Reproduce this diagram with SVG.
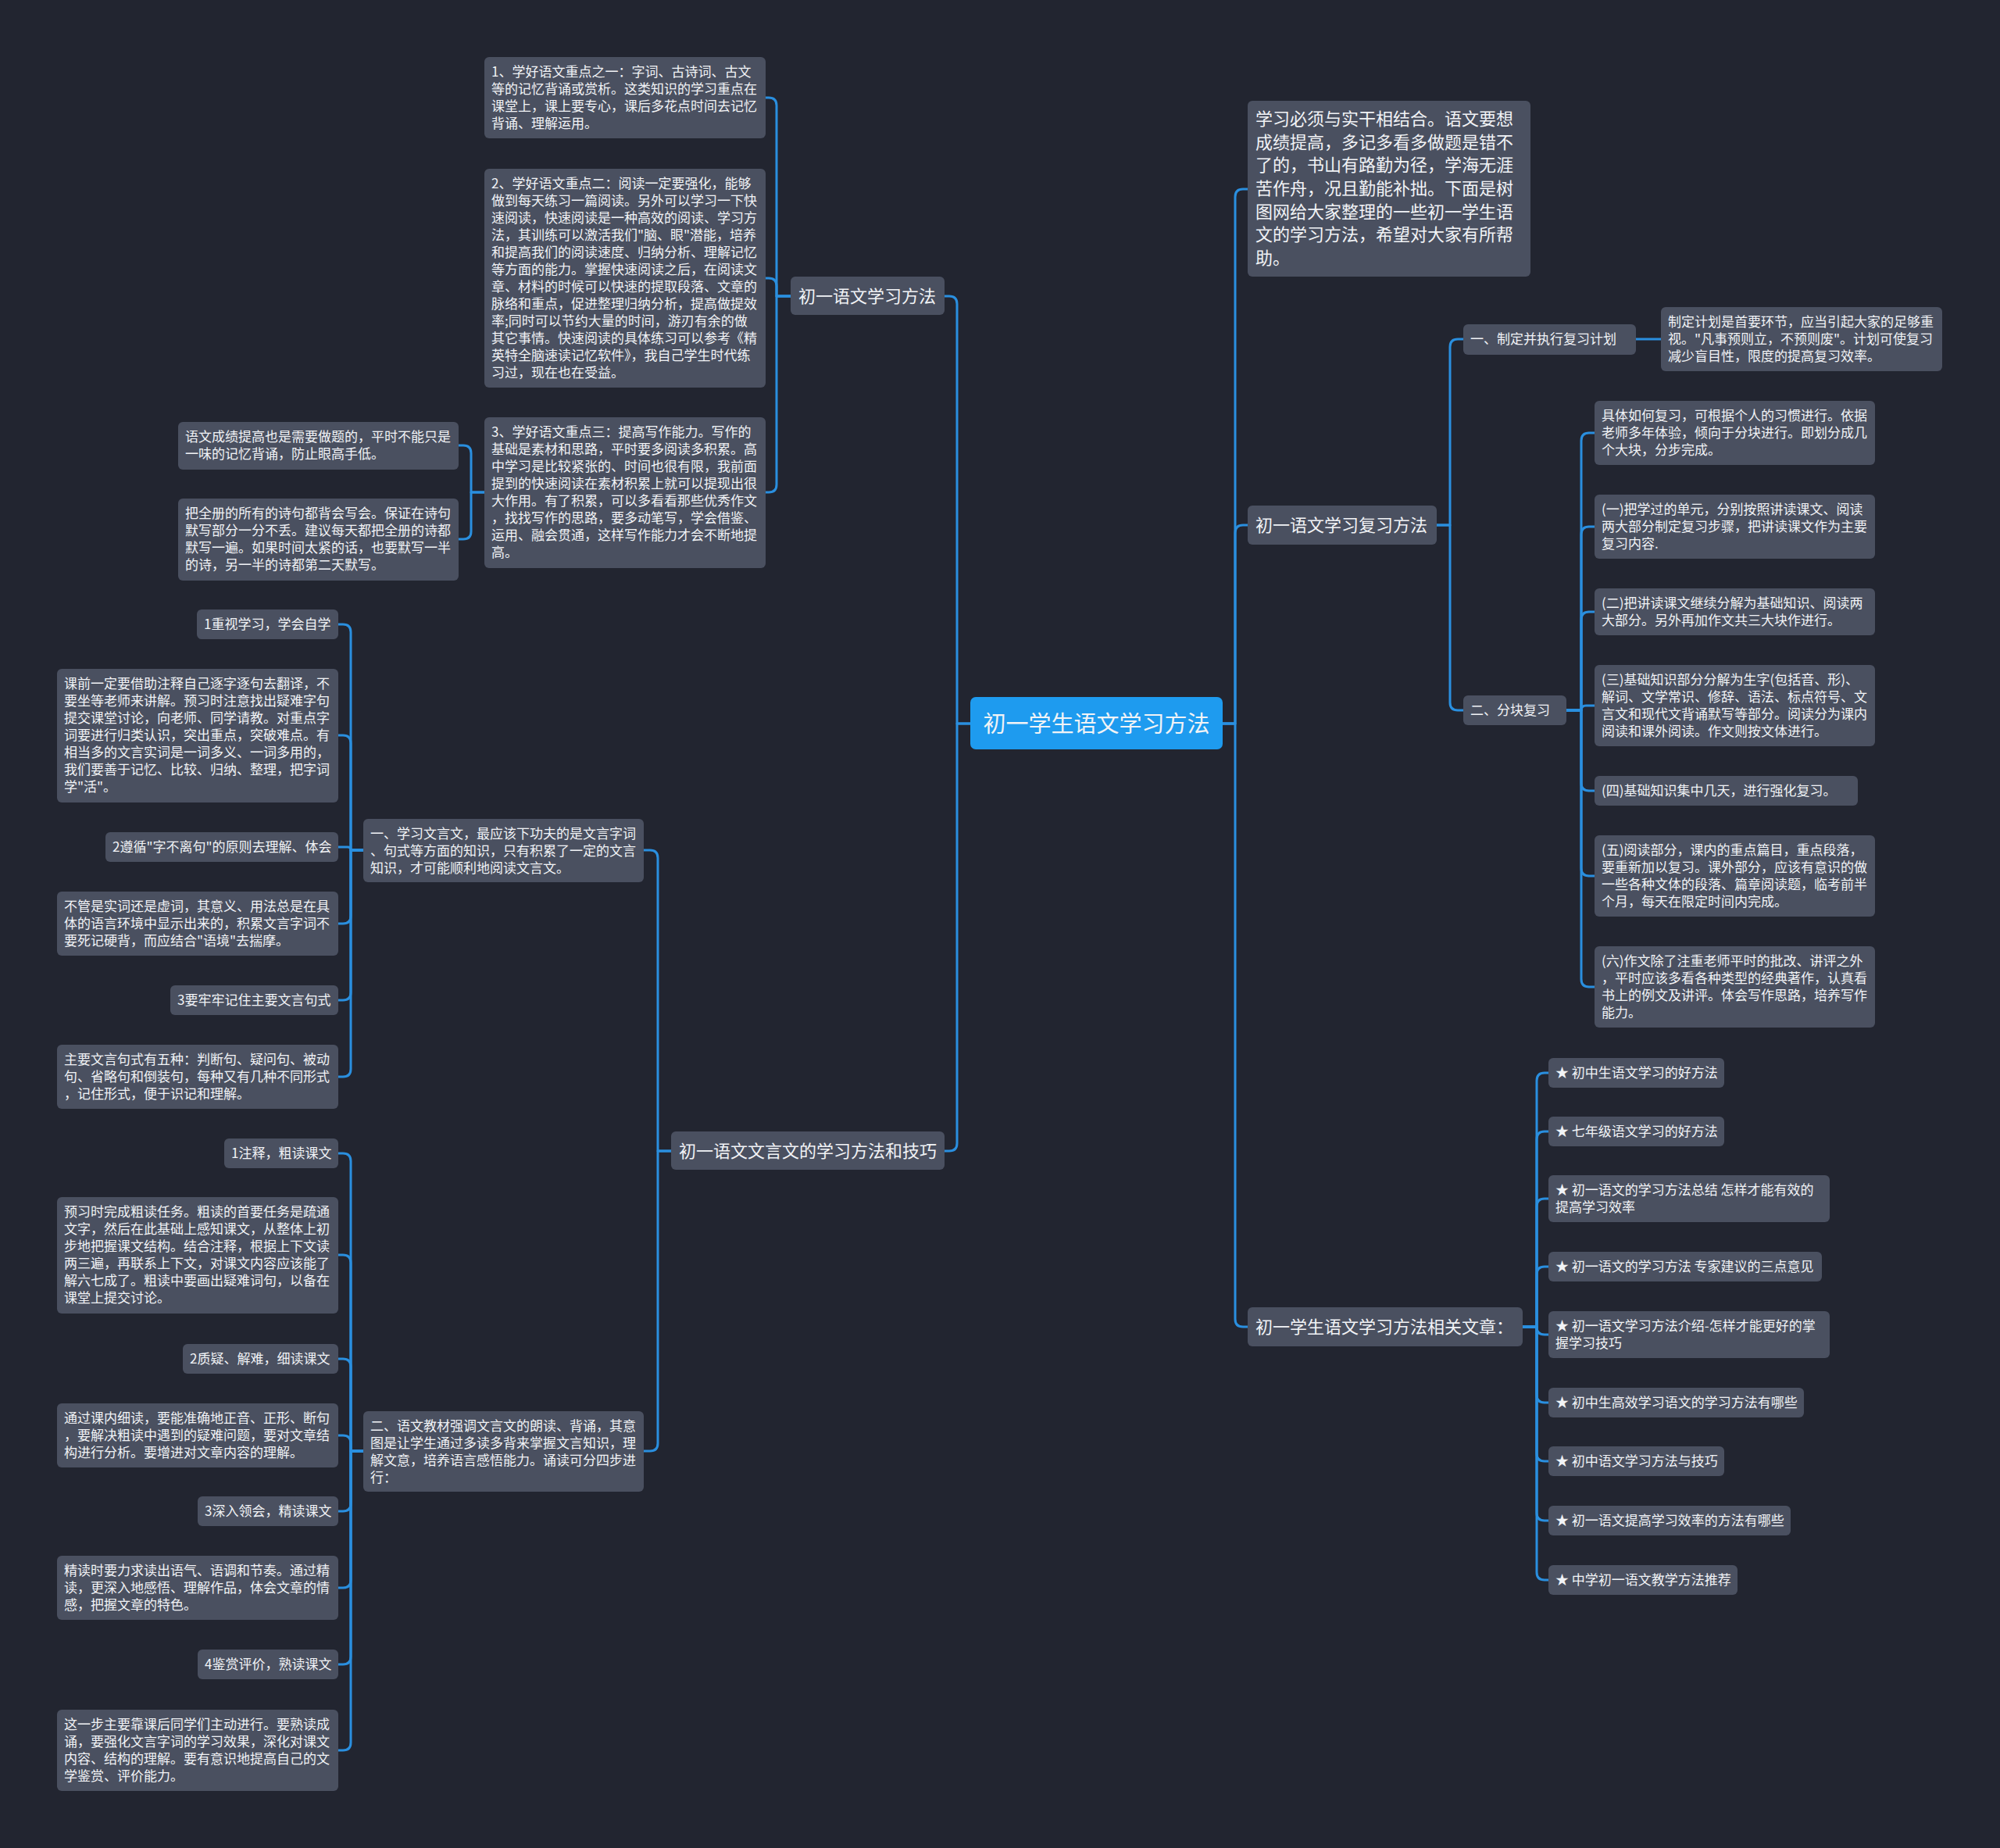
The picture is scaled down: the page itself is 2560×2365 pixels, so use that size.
<svg xmlns="http://www.w3.org/2000/svg" width="2560" height="2365" viewBox="0 0 2560 2365">
<style>
.bg{fill:#222530}
.box{fill:#4a5060}
.rootbox{fill:#1e9bef}
text{fill:#f1f3f6;font-family:"Noto Sans CJK SC","Microsoft YaHei",sans-serif}
.s{font-size:17px}
.m{font-size:22px}
.r{font-size:29px;text-anchor:middle}
.c path{fill:none;stroke:#2a8fdf;stroke-width:3;stroke-linejoin:round}
</style>
<rect class="bg" x="0" y="0" width="2560" height="2365"/>
<g id="connectors" class="c">
<path d="M1242 926 H1225 V389 Q1225 379 1215 379 H1209"/>
<path d="M1242 926 H1225 V1463 Q1225 1473 1215 1473 H1209"/>
<path d="M1565 926 H1581 V252 Q1581 242 1591 242 H1597"/>
<path d="M1565 926 H1581 V682 Q1581 672 1591 672 H1597"/>
<path d="M1565 926 H1581 V1688 Q1581 1698 1591 1698 H1597"/>
<path d="M1012 379 H994 V135 Q994 125 984 125 H980"/>
<path d="M1012 379 H994 V366 Q994 356 984 356 H980"/>
<path d="M1012 379 H994 V620 Q994 630 984 630 H980"/>
<path d="M620 630 H603 V580 Q603 570 593 570 H587"/>
<path d="M620 630 H603 V680 Q603 690 593 690 H587"/>
<path d="M859 1473 H842 V1098 Q842 1088 832 1088 H824"/>
<path d="M859 1473 H842 V1847 Q842 1857 832 1857 H824"/>
<path d="M465 1088 H449 V809 Q449 799 439 799 H433"/>
<path d="M465 1088 H449 V951 Q449 941 439 941 H433"/>
<path d="M465 1088 H449 Q449 1084 445 1084 H433"/>
<path d="M465 1088 H449 V1172 Q449 1182 439 1182 H433"/>
<path d="M465 1088 H449 V1270 Q449 1280 439 1280 H433"/>
<path d="M465 1088 H449 V1368 Q449 1378 439 1378 H433"/>
<path d="M465 1857 H449 V1486 Q449 1476 439 1476 H433"/>
<path d="M465 1857 H449 V1616 Q449 1606 439 1606 H433"/>
<path d="M465 1857 H449 V1749 Q449 1739 439 1739 H433"/>
<path d="M465 1857 H449 V1847 Q449 1837 439 1837 H433"/>
<path d="M465 1857 H449 V1924 Q449 1934 439 1934 H433"/>
<path d="M465 1857 H449 V2022 Q449 2032 439 2032 H433"/>
<path d="M465 1857 H449 V2120 Q449 2130 439 2130 H433"/>
<path d="M465 1857 H449 V2230 Q449 2240 439 2240 H433"/>
<path d="M1838 672 H1856 V444 Q1856 434 1866 434 H1873"/>
<path d="M1838 672 H1856 V899 Q1856 909 1866 909 H1873"/>
<path d="M2094 434 H2126"/>
<path d="M2005 909 H2024 V564 Q2024 554 2034 554 H2041"/>
<path d="M2005 909 H2024 V684 Q2024 674 2034 674 H2041"/>
<path d="M2005 909 H2024 V793 Q2024 783 2034 783 H2041"/>
<path d="M2005 909 H2024 Q2024 903 2030 903 H2041"/>
<path d="M2005 909 H2024 V1002 Q2024 1012 2034 1012 H2041"/>
<path d="M2005 909 H2024 V1111 Q2024 1121 2034 1121 H2041"/>
<path d="M2005 909 H2024 V1253 Q2024 1263 2034 1263 H2041"/>
<path d="M1949 1698 H1967 V1383 Q1967 1373 1977 1373 H1982"/>
<path d="M1949 1698 H1967 V1458 Q1967 1448 1977 1448 H1982"/>
<path d="M1949 1698 H1967 V1544 Q1967 1534 1977 1534 H1982"/>
<path d="M1949 1698 H1967 V1631 Q1967 1621 1977 1621 H1982"/>
<path d="M1949 1698 H1967 Q1967 1708 1977 1708 H1982"/>
<path d="M1949 1698 H1967 V1785 Q1967 1795 1977 1795 H1982"/>
<path d="M1949 1698 H1967 V1860 Q1967 1870 1977 1870 H1982"/>
<path d="M1949 1698 H1967 V1936 Q1967 1946 1977 1946 H1982"/>
<path d="M1949 1698 H1967 V2012 Q1967 2022 1977 2022 H1982"/>
</g>

<g id="root">
<rect class="rootbox" x="1242" y="892" width="323" height="67" rx="7"/>
<text class="r" x="1403.5" y="937">初一学生语文学习方法</text>
</g>

<g id="n-method">
<rect class="box" x="1012" y="354" width="197" height="49" rx="6"/>
<text class="m" x="1022" y="387">初一语文学习方法</text>
</g>
<g id="n-m1">
<rect class="box" x="620" y="73" width="360" height="104" rx="6"/>
<text class="s"><tspan x="629" y="98">1、学好语文重点之一：字词、古诗词、古文</tspan><tspan x="629" y="120">等的记忆背诵或赏析。这类知识的学习重点在</tspan><tspan x="629" y="142">课堂上，课上要专心，课后多花点时间去记忆</tspan><tspan x="629" y="164">背诵、理解运用。</tspan></text>
</g>
<g id="n-m2">
<rect class="box" x="620" y="216" width="360" height="280" rx="6"/>
<text class="s"><tspan x="629" y="241">2、学好语文重点二：阅读一定要强化，能够</tspan><tspan x="629" y="263">做到每天练习一篇阅读。另外可以学习一下快</tspan><tspan x="629" y="285">速阅读，快速阅读是一种高效的阅读、学习方</tspan><tspan x="629" y="307">法，其训练可以激活我们"脑、眼"潜能，培养</tspan><tspan x="629" y="329">和提高我们的阅读速度、归纳分析、理解记忆</tspan><tspan x="629" y="351">等方面的能力。掌握快速阅读之后，在阅读文</tspan><tspan x="629" y="373">章、材料的时候可以快速的提取段落、文章的</tspan><tspan x="629" y="395">脉络和重点，促进整理归纳分析，提高做提效</tspan><tspan x="629" y="417">率;同时可以节约大量的时间，游刃有余的做</tspan><tspan x="629" y="439">其它事情。快速阅读的具体练习可以参考《精</tspan><tspan x="629" y="461">英特全脑速读记忆软件》，我自己学生时代练</tspan><tspan x="629" y="483">习过，现在也在受益。</tspan></text>
</g>
<g id="n-m3">
<rect class="box" x="620" y="534" width="360" height="193" rx="6"/>
<text class="s"><tspan x="629" y="559">3、学好语文重点三：提高写作能力。写作的</tspan><tspan x="629" y="581">基础是素材和思路，平时要多阅读多积累。高</tspan><tspan x="629" y="603">中学习是比较紧张的、时间也很有限，我前面</tspan><tspan x="629" y="625">提到的快速阅读在素材积累上就可以提现出很</tspan><tspan x="629" y="647">大作用。有了积累，可以多看看那些优秀作文</tspan><tspan x="629" y="669">，找找写作的思路，要多动笔写，学会借鉴、</tspan><tspan x="629" y="691">运用、融会贯通，这样写作能力才会不断地提</tspan><tspan x="629" y="713">高。</tspan></text>
</g>
<g id="n-m3a">
<rect class="box" x="228" y="540" width="359" height="61" rx="6"/>
<text class="s"><tspan x="237" y="565">语文成绩提高也是需要做题的，平时不能只是</tspan><tspan x="237" y="587">一味的记忆背诵，防止眼高手低。</tspan></text>
</g>
<g id="n-m3b">
<rect class="box" x="228" y="638" width="359" height="105" rx="6"/>
<text class="s"><tspan x="237" y="663">把全册的所有的诗句都背会写会。保证在诗句</tspan><tspan x="237" y="685">默写部分一分不丢。建议每天都把全册的诗都</tspan><tspan x="237" y="707">默写一遍。如果时间太紧的话，也要默写一半</tspan><tspan x="237" y="729">的诗，另一半的诗都第二天默写。</tspan></text>
</g>

<g id="n-wyw">
<rect class="box" x="859" y="1448" width="350" height="49" rx="6"/>
<text class="m" x="869" y="1481">初一语文文言文的学习方法和技巧</text>
</g>
<g id="n-w1">
<rect class="box" x="465" y="1048" width="359" height="81" rx="6"/>
<text class="s"><tspan x="474" y="1073">一、学习文言文，最应该下功夫的是文言字词</tspan><tspan x="474" y="1095">、句式等方面的知识，只有积累了一定的文言</tspan><tspan x="474" y="1117">知识，才可能顺利地阅读文言文。</tspan></text>
</g>
<g id="n-w1a">
<rect class="box" x="252" y="780" width="181" height="38" rx="6"/>
<text class="s" x="261" y="805">1重视学习，学会自学</text>
</g>
<g id="n-w1b">
<rect class="box" x="73" y="856" width="360" height="171" rx="6"/>
<text class="s"><tspan x="82" y="881">课前一定要借助注释自己逐字逐句去翻译，不</tspan><tspan x="82" y="903">要坐等老师来讲解。预习时注意找出疑难字句</tspan><tspan x="82" y="925">提交课堂讨论，向老师、同学请教。对重点字</tspan><tspan x="82" y="947">词要进行归类认识，突出重点，突破难点。有</tspan><tspan x="82" y="969">相当多的文言实词是一词多义、一词多用的，</tspan><tspan x="82" y="991">我们要善于记忆、比较、归纳、整理，把字词</tspan><tspan x="82" y="1013">学"活"。</tspan></text>
</g>
<g id="n-w1c">
<rect class="box" x="135" y="1065" width="298" height="38" rx="6"/>
<text class="s" x="144" y="1090">2遵循"字不离句"的原则去理解、体会</text>
</g>
<g id="n-w1d">
<rect class="box" x="73" y="1141" width="360" height="82" rx="6"/>
<text class="s"><tspan x="82" y="1166">不管是实词还是虚词，其意义、用法总是在具</tspan><tspan x="82" y="1188">体的语言环境中显示出来的，积累文言字词不</tspan><tspan x="82" y="1210">要死记硬背，而应结合"语境"去揣摩。</tspan></text>
</g>
<g id="n-w1e">
<rect class="box" x="218" y="1261" width="215" height="38" rx="6"/>
<text class="s" x="227" y="1286">3要牢牢记住主要文言句式</text>
</g>
<g id="n-w1f">
<rect class="box" x="73" y="1337" width="360" height="82" rx="6"/>
<text class="s"><tspan x="82" y="1362">主要文言句式有五种：判断句、疑问句、被动</tspan><tspan x="82" y="1384">句、省略句和倒装句，每种又有几种不同形式</tspan><tspan x="82" y="1406">，记住形式，便于识记和理解。</tspan></text>
</g>
<g id="n-w2">
<rect class="box" x="465" y="1806" width="359" height="103" rx="6"/>
<text class="s"><tspan x="474" y="1831">二、语文教材强调文言文的朗读、背诵，其意</tspan><tspan x="474" y="1853">图是让学生通过多读多背来掌握文言知识，理</tspan><tspan x="474" y="1875">解文意，培养语言感悟能力。诵读可分四步进</tspan><tspan x="474" y="1897">行：</tspan></text>
</g>
<g id="n-w2a">
<rect class="box" x="287" y="1457" width="146" height="38" rx="6"/>
<text class="s" x="296" y="1482">1注释，粗读课文</text>
</g>
<g id="n-w2b">
<rect class="box" x="73" y="1532" width="360" height="149" rx="6"/>
<text class="s"><tspan x="82" y="1557">预习时完成粗读任务。粗读的首要任务是疏通</tspan><tspan x="82" y="1579">文字，然后在此基础上感知课文，从整体上初</tspan><tspan x="82" y="1601">步地把握课文结构。结合注释，根据上下文读</tspan><tspan x="82" y="1623">两三遍，再联系上下文，对课文内容应该能了</tspan><tspan x="82" y="1645">解六七成了。粗读中要画出疑难词句，以备在</tspan><tspan x="82" y="1667">课堂上提交讨论。</tspan></text>
</g>
<g id="n-w2c">
<rect class="box" x="234" y="1720" width="199" height="38" rx="6"/>
<text class="s" x="243" y="1745">2质疑、解难，细读课文</text>
</g>
<g id="n-w2d">
<rect class="box" x="73" y="1796" width="360" height="82" rx="6"/>
<text class="s"><tspan x="82" y="1821">通过课内细读，要能准确地正音、正形、断句</tspan><tspan x="82" y="1843">，要解决粗读中遇到的疑难问题，要对文章结</tspan><tspan x="82" y="1865">构进行分析。要增进对文章内容的理解。</tspan></text>
</g>
<g id="n-w2e">
<rect class="box" x="253" y="1915" width="180" height="38" rx="6"/>
<text class="s" x="262" y="1940">3深入领会，精读课文</text>
</g>
<g id="n-w2f">
<rect class="box" x="73" y="1991" width="360" height="82" rx="6"/>
<text class="s"><tspan x="82" y="2016">精读时要力求读出语气、语调和节奏。通过精</tspan><tspan x="82" y="2038">读，更深入地感悟、理解作品，体会文章的情</tspan><tspan x="82" y="2060">感，把握文章的特色。</tspan></text>
</g>
<g id="n-w2g">
<rect class="box" x="253" y="2111" width="180" height="38" rx="6"/>
<text class="s" x="262" y="2136">4鉴赏评价，熟读课文</text>
</g>
<g id="n-w2h">
<rect class="box" x="73" y="2188" width="360" height="104" rx="6"/>
<text class="s"><tspan x="82" y="2213">这一步主要靠课后同学们主动进行。要熟读成</tspan><tspan x="82" y="2235">诵，要强化文言字词的学习效果，深化对课文</tspan><tspan x="82" y="2257">内容、结构的理解。要有意识地提高自己的文</tspan><tspan x="82" y="2279">学鉴赏、评价能力。</tspan></text>
</g>

<g id="n-intro">
<rect class="box" x="1597" y="129" width="362" height="225" rx="6"/>
<text class="m"><tspan x="1607" y="160">学习必须与实干相结合。语文要想</tspan><tspan x="1607" y="190">成绩提高，多记多看多做题是错不</tspan><tspan x="1607" y="219">了的，书山有路勤为径，学海无涯</tspan><tspan x="1607" y="249">苦作舟，况且勤能补拙。下面是树</tspan><tspan x="1607" y="279">图网给大家整理的一些初一学生语</tspan><tspan x="1607" y="308">文的学习方法，希望对大家有所帮</tspan><tspan x="1607" y="338">助。</tspan></text>
</g>

<g id="n-review">
<rect class="box" x="1597" y="647" width="242" height="50" rx="6"/>
<text class="m" x="1607" y="680">初一语文学习复习方法</text>
</g>
<g id="n-r1">
<rect class="box" x="1873" y="415" width="221" height="39" rx="6"/>
<text class="s" x="1882" y="440">一、制定并执行复习计划</text>
</g>
<g id="n-r1a">
<rect class="box" x="2126" y="393" width="360" height="82" rx="6"/>
<text class="s"><tspan x="2135" y="418">制定计划是首要环节，应当引起大家的足够重</tspan><tspan x="2135" y="440">视。"凡事预则立，不预则废"。计划可使复习</tspan><tspan x="2135" y="462">减少盲目性，限度的提高复习效率。</tspan></text>
</g>
<g id="n-r2">
<rect class="box" x="1873" y="890" width="132" height="38" rx="6"/>
<text class="s" x="1882" y="915">二、分块复习</text>
</g>
<g id="n-r2a">
<rect class="box" x="2041" y="513" width="359" height="82" rx="6"/>
<text class="s"><tspan x="2050" y="538">具体如何复习，可根据个人的习惯进行。依据</tspan><tspan x="2050" y="560">老师多年体验，倾向于分块进行。即划分成几</tspan><tspan x="2050" y="582">个大块，分步完成。</tspan></text>
</g>
<g id="n-r2b">
<rect class="box" x="2041" y="633" width="359" height="82" rx="6"/>
<text class="s"><tspan x="2050" y="658">(一)把学过的单元，分别按照讲读课文、阅读</tspan><tspan x="2050" y="680">两大部分制定复习步骤，把讲读课文作为主要</tspan><tspan x="2050" y="702">复习内容.</tspan></text>
</g>
<g id="n-r2c">
<rect class="box" x="2041" y="753" width="359" height="60" rx="6"/>
<text class="s"><tspan x="2050" y="778">(二)把讲读课文继续分解为基础知识、阅读两</tspan><tspan x="2050" y="800">大部分。另外再加作文共三大块作进行。</tspan></text>
</g>
<g id="n-r2d">
<rect class="box" x="2041" y="851" width="359" height="104" rx="6"/>
<text class="s"><tspan x="2050" y="876">(三)基础知识部分分解为生字(包括音、形)、</tspan><tspan x="2050" y="898">解词、文学常识、修辞、语法、标点符号、文</tspan><tspan x="2050" y="920">言文和现代文背诵默写等部分。阅读分为课内</tspan><tspan x="2050" y="942">阅读和课外阅读。作文则按文体进行。</tspan></text>
</g>
<g id="n-r2e">
<rect class="box" x="2041" y="993" width="337" height="38" rx="6"/>
<text class="s" x="2050" y="1018">(四)基础知识集中几天，进行强化复习。</text>
</g>
<g id="n-r2f">
<rect class="box" x="2041" y="1069" width="359" height="104" rx="6"/>
<text class="s"><tspan x="2050" y="1094">(五)阅读部分，课内的重点篇目，重点段落，</tspan><tspan x="2050" y="1116">要重新加以复习。课外部分，应该有意识的做</tspan><tspan x="2050" y="1138">一些各种文体的段落、篇章阅读题，临考前半</tspan><tspan x="2050" y="1160">个月，每天在限定时间内完成。</tspan></text>
</g>
<g id="n-r2g">
<rect class="box" x="2041" y="1211" width="359" height="104" rx="6"/>
<text class="s"><tspan x="2050" y="1236">(六)作文除了注重老师平时的批改、讲评之外</tspan><tspan x="2050" y="1258">，平时应该多看各种类型的经典著作，认真看</tspan><tspan x="2050" y="1280">书上的例文及讲评。体会写作思路，培养写作</tspan><tspan x="2050" y="1302">能力。</tspan></text>
</g>

<g id="n-related">
<rect class="box" x="1597" y="1673" width="352" height="50" rx="6"/>
<text class="m" x="1607" y="1706">初一学生语文学习方法相关文章：</text>
</g>
<g id="n-g1"><rect class="box" x="1982" y="1354" width="225" height="38" rx="6"/><text class="s" x="1991" y="1379">★ 初中生语文学习的好方法</text></g>
<g id="n-g2"><rect class="box" x="1982" y="1429" width="225" height="38" rx="6"/><text class="s" x="1991" y="1454">★ 七年级语文学习的好方法</text></g>
<g id="n-g3"><rect class="box" x="1982" y="1504" width="360" height="60" rx="6"/><text class="s"><tspan x="1991" y="1529">★ 初一语文的学习方法总结 怎样才能有效的</tspan><tspan x="1991" y="1551">提高学习效率</tspan></text></g>
<g id="n-g4"><rect class="box" x="1982" y="1602" width="350" height="38" rx="6"/><text class="s" x="1991" y="1627">★ 初一语文的学习方法 专家建议的三点意见</text></g>
<g id="n-g5"><rect class="box" x="1982" y="1678" width="360" height="60" rx="6"/><text class="s"><tspan x="1991" y="1703">★ 初一语文学习方法介绍-怎样才能更好的掌</tspan><tspan x="1991" y="1725">握学习技巧</tspan></text></g>
<g id="n-g6"><rect class="box" x="1982" y="1776" width="327" height="38" rx="6"/><text class="s" x="1991" y="1801">★ 初中生高效学习语文的学习方法有哪些</text></g>
<g id="n-g7"><rect class="box" x="1982" y="1851" width="225" height="38" rx="6"/><text class="s" x="1991" y="1876">★ 初中语文学习方法与技巧</text></g>
<g id="n-g8"><rect class="box" x="1982" y="1927" width="310" height="38" rx="6"/><text class="s" x="1991" y="1952">★ 初一语文提高学习效率的方法有哪些</text></g>
<g id="n-g9"><rect class="box" x="1982" y="2003" width="242" height="38" rx="6"/><text class="s" x="1991" y="2028">★ 中学初一语文教学方法推荐</text></g>
</svg>
